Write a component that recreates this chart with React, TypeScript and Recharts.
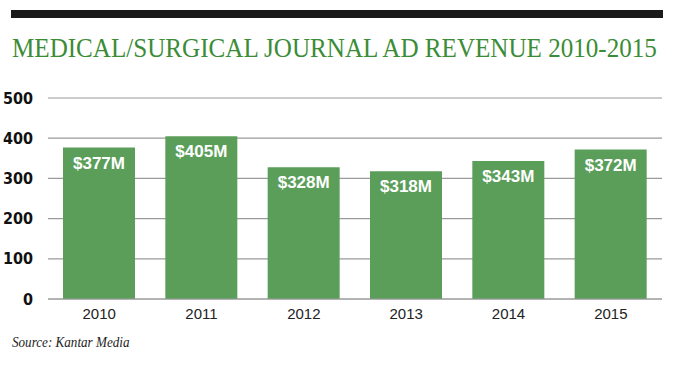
import { BarChart, Bar, XAxis, YAxis, CartesianGrid, LabelList } from 'recharts'

const years = ['2010', '2011', '2012', '2013', '2014', '2015']
const revenue = [377, 405, 328, 318, 343, 372]
const yTicks = [0, 100, 200, 300, 400, 500]

const data = years.map((year, i) => ({ year, revenue: revenue[i] }))

const serif = "'Liberation Serif', 'DejaVu Serif', serif"
const sans = "'Liberation Sans', Arial, sans-serif"

export default function App() {
  return (
    <div style={{ position: 'absolute', left: 0, top: 0, width: 675, height: 368, background: '#fff' }}>
      <svg width={675} height={368} style={{ position: 'absolute', left: 0, top: 0 }}>
        <rect x={11} y={10} width={652} height={8} fill="#1a1a1a" />
        {/* condensed serif title, squeezed horizontally to fit the rule */}
        <text
          transform="translate(12,57) scale(0.892,1)"
          fontFamily={serif}
          fontSize={28}
          fill="#3b8c36"
          textLength={723}
          lengthAdjust="spacingAndGlyphs"
        >
          MEDICAL/SURGICAL JOURNAL AD REVENUE 2010-2015
        </text>
        <text
          transform="translate(12,347) scale(0.87,1)"
          fontFamily={serif}
          fontStyle="italic"
          fontSize={15}
          fill="#222"
          textLength={135}
          lengthAdjust="spacingAndGlyphs"
        >
          Source: Kantar Media
        </text>
      </svg>
      <div style={{ position: 'absolute', left: 0, top: 0 }}>
        <BarChart
          width={675}
          height={368}
          data={data}
          margin={{ top: 98, right: 13, left: 8, bottom: 39 }}
        >
          <CartesianGrid vertical={false} stroke="#9a9a9a" strokeWidth={1.2} />
          <XAxis
            dataKey="year"
            height={30}
            tickLine={false}
            axisLine={{ stroke: '#9a9a9a', strokeWidth: 1.2 }}
            tickMargin={3}
            tick={{ fill: '#222', fontSize: 15, fontFamily: sans }}
          />
          <YAxis
            width={40}
            domain={[0, 500]}
            ticks={yTicks}
            tickLine={false}
            axisLine={false}
            tickMargin={9}
            tick={{
              fill: '#111',
              fontSize: 16,
              fontWeight: 700,
              fontFamily: "'Liberation Sans Narrow', 'DejaVu Sans Condensed', sans-serif",
            }}
          />
          <Bar dataKey="revenue" fill="#5a9e5a" barSize={72} isAnimationActive={false}>
            <LabelList
              dataKey="revenue"
              position="insideTop"
              offset={9}
              formatter={(v: number) => `$${v}M`}
              fill="#fff"
              fontSize={17}
              fontWeight={700}
              fontFamily={sans}
            />
          </Bar>
        </BarChart>
      </div>
    </div>
  )
}
